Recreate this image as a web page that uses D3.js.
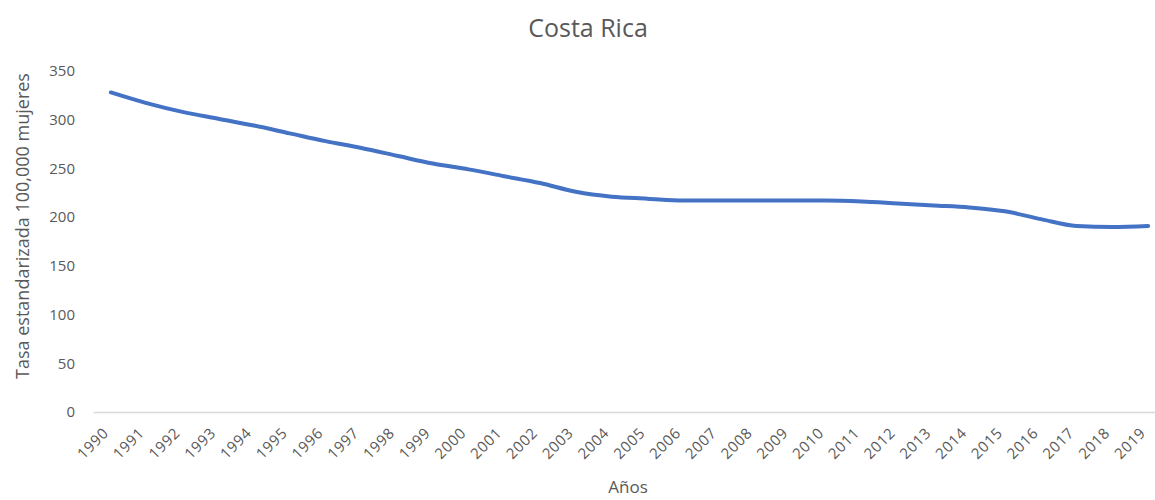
<!DOCTYPE html>
<html>
<head>
<meta charset="utf-8">
<script src="https://cdn.jsdelivr.net/npm/d3@7"></script>
<style>
  body { margin: 0; background: #fff; }
  text { font-family: "Open Sans", "Liberation Sans", sans-serif; }
</style>
</head>
<body>
<div id="chart"></div>
<script>
const years = d3.range(1990, 2020).map(String);
const rates = [328, 317, 308, 301, 294, 286, 278, 271, 263, 255,
               249, 242, 235, 226, 221, 219, 217, 217, 217, 217,
               217, 216, 214, 212, 210, 206, 198, 191, 190, 191];
const yTicks = [0, 50, 100, 150, 200, 250, 300, 350];

const W = 1155, H = 500;
const plotLeft = 93, plotRight = 1166, plotTop = 71, plotBottom = 412;

const svg = d3.select("#chart").append("svg")
  .attr("width", W)
  .attr("height", H);

const x = d3.scalePoint()
  .domain(years)
  .range([plotLeft, plotRight])
  .padding(0.5);

const y = d3.scaleLinear()
  .domain([0, 350])
  .range([plotBottom, plotTop]);

// Title
svg.append("text")
  .attr("x", 588)
  .attr("y", 37)
  .attr("text-anchor", "middle")
  .attr("font-size", 25)
  .attr("fill", "#595959")
  .text("Costa Rica");

// Y axis (labels only)
const yAxis = svg.append("g")
  .attr("transform", `translate(${plotLeft - 18},0)`)
  .call(d3.axisLeft(y).tickValues(yTicks).tickSize(0).tickPadding(0));
yAxis.select(".domain").remove();
yAxis.selectAll("text")
  .attr("font-size", 15)
  .attr("fill", "#595959")
  .attr("font-family", "Open Sans, Liberation Sans, sans-serif");

// X axis
const xAxis = svg.append("g")
  .attr("transform", `translate(0,${plotBottom})`)
  .call(d3.axisBottom(x).tickSize(0).tickPadding(0));
xAxis.select(".domain")
  .attr("stroke", "#d9d9d9")
  .attr("stroke-width", 1.5);
xAxis.selectAll("text")
  .attr("font-size", 15)
  .attr("letter-spacing", 0.6)
  .attr("fill", "#595959")
  .attr("font-family", "Open Sans, Liberation Sans, sans-serif")
  .attr("text-anchor", "end")
  .attr("dy", 0)
  .attr("transform", "translate(-2,22) rotate(-45)");

// Line
svg.append("path")
  .datum(rates)
  .attr("fill", "none")
  .attr("stroke", "#4472c4")
  .attr("stroke-width", 4)
  .attr("stroke-linecap", "round")
  .attr("d", d3.line()
    .x((d, i) => x(years[i]))
    .y(d => y(d))
    .curve(d3.curveMonotoneX));

// Axis labels
svg.append("text")
  .attr("x", 628)
  .attr("y", 493)
  .attr("text-anchor", "middle")
  .attr("font-size", 17)
  .attr("fill", "#595959")
  .text("Años");

svg.append("text")
  .attr("transform", "rotate(-90)")
  .attr("x", -226)
  .attr("y", 29)
  .attr("text-anchor", "middle")
  .attr("font-size", 18)
  .attr("fill", "#595959")
  .text("Tasa estandarizada 100,000 mujeres");
</script>
</body>
</html>
